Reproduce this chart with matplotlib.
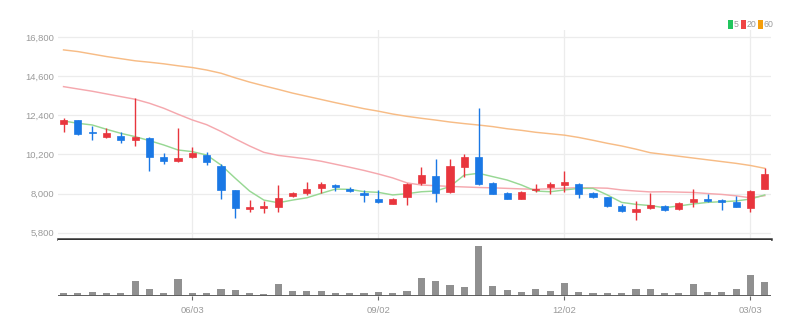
import matplotlib
matplotlib.use("Agg")
import matplotlib.pyplot as plt
from matplotlib.patches import Rectangle
import numpy as np

# ---- data (weekly candles) ----
opens = [11939, 12146, 11488, 11206, 11263, 11037, 11150, 10041, 9834, 10059,
         10172, 9552, 8179, 7146, 7183, 7258, 7860, 8010, 8292, 8499,
         8273, 8010, 7672, 7409, 7823, 8612, 9007, 8066, 9514, 10041,
         8574, 8010, 7691, 8179, 8349, 8499, 8555, 8010, 7785, 7315,
         6976, 7164, 7315, 7146, 7540, 7691, 7616, 7503, 7202, 8273]
highs = [12240, 12160, 11827, 11714, 11451, 13406, 11160, 10304, 11678, 10642,
         10323, 9646, 8190, 7634, 7578, 8480, 8100, 8668, 8668, 8530,
         8386, 8198, 8198, 7728, 8574, 9514, 9947, 9947, 10229, 12842,
         8668, 8104, 8120, 8537, 8668, 9270, 8612, 8066, 7823, 7409,
         7597, 8048, 7352, 7540, 8254, 7972, 7672, 7860, 8179, 9420]
lows = [11488, 11300, 11018, 11150, 10830, 10699, 9270, 9683, 9760, 9984,
        9608, 7691, 6638, 6976, 6882, 6976, 7822, 7916, 8010, 8142,
        8104, 7540, 7490, 7390, 7352, 8480, 7503, 8010, 8950, 8500,
        7954, 7680, 7680, 8104, 7954, 8066, 7766, 7766, 7258, 6976,
        6506, 7127, 7014, 7089, 7221, 7503, 7051, 7221, 6976, 8236]
closes = [12165, 11357, 11394, 11432, 11018, 11169, 10041, 9815, 9986, 10266,
          9796, 8198, 7164, 7258, 7277, 7728, 8048, 8273, 8518, 8386,
          8142, 7935, 7503, 7672, 8518, 9044, 8010, 9552, 10078, 8518,
          7991, 7691, 8104, 8254, 8518, 8631, 7954, 7823, 7296, 7014,
          7108, 7333, 7051, 7484, 7672, 7597, 7503, 7258, 8142, 9101]
volumes = [9, 8, 12, 9, 9, 45, 20, 9, 52, 9,
           9, 20, 17, 9, 7, 35, 14, 14, 14, 8,
           8, 9, 12, 8, 16, 54, 45, 32, 27, 149,
           30, 17, 13, 21, 16, 39, 12, 9, 9, 8,
           22, 22, 9, 8, 35, 13, 13, 21, 64, 43]
ma5 = [12090, 11958, 11864, 11620, 11394, 11206, 10981, 10736, 10454, 10360,
       10172, 9608, 8860, 8140, 7630, 7480, 7630, 7760, 8010, 8250,
       8235, 8104, 8066, 7920, 7990, 8100, 8140, 8390, 9040, 9140,
       8950, 8760, 8480, 8140, 8100, 8200, 8290, 8290, 7920, 7500,
       7390, 7320, 7200, 7300, 7410, 7500, 7540, 7580, 7690, 7920]
ma20 = [14024, 13893, 13765, 13613, 13462, 13312, 13088, 12806, 12468, 12146,
        11880, 11500, 11080, 10680, 10320, 10150, 10050, 9950, 9820, 9650,
        9480, 9300, 9100, 8880, 8600, 8480, 8440, 8400, 8370, 8340,
        8320, 8290, 8260, 8240, 8270, 8300, 8330, 8320, 8300, 8200,
        8140, 8090, 8100, 8080, 8060, 8000, 7950, 7870, 7760, 7880]
ma60 = [16094, 16000, 15860, 15720, 15600, 15480, 15400, 15310, 15200, 15100,
        14960, 14780, 14520, 14280, 14070, 13870, 13660, 13480, 13300, 13120,
        12950, 12780, 12640, 12480, 12350, 12240, 12140, 12030, 11940, 11860,
        11770, 11650, 11560, 11450, 11370, 11290, 11160, 11000, 10830, 10680,
        10500, 10300, 10200, 10100, 10000, 9900, 9800, 9700, 9580, 9420]
y_ticks = [5800, 8000, 10200, 12400, 14600, 16800]
x_tick_idx = [9, 22, 35, 48]
x_tick_labels = ["06/03", "09/02", "12/02", "03/03"]

UP = "#e8353d"
DOWN = "#1a78e5"
FONT = ["Liberation Sans Narrow", "DejaVu Sans Condensed", "Liberation Sans", "DejaVu Sans"]
TXT = "#9a9a9a"

fig = plt.figure(figsize=(8.06, 3.32), dpi=100)
ax = fig.add_axes([0.072, 0.280, 0.885, 0.630])
axv = fig.add_axes([0.072, 0.108, 0.885, 0.169], sharex=ax)

n = len(opens)
x = np.arange(n)

# grid
for yt in y_ticks:
    ax.axhline(yt, color="#ececec", lw=0.9, zorder=0)
for xi in x_tick_idx:
    ax.axvline(xi, color="#ececec", lw=0.9, zorder=0)

# moving averages
ax.plot(x, ma60, color="#f7bc86", lw=1.05, zorder=1)
ax.plot(x, ma20, color="#f5a8ae", lw=1.05, zorder=1)
ax.plot(x, ma5, color="#98d894", lw=1.05, zorder=1)

# candles
w = 0.5
for i in range(n):
    o, h, l, c = opens[i], highs[i], lows[i], closes[i]
    col = UP if c >= o else DOWN
    ax.vlines(i, l, h, color=col, lw=1.0, zorder=2)
    bot = min(o, c)
    hgt = max(abs(c - o), 40)
    ax.add_patch(Rectangle((i - w / 2, bot), w, hgt, facecolor=col,
                           edgecolor=col, lw=0.5, zorder=3))

ax.set_xlim(-0.385, n - 1 + 0.46)
ax.set_ylim(5435, 17222)
ax.set_yticks(y_ticks)
ax.set_yticklabels([f"{v:,}" for v in y_ticks], fontfamily=FONT,
                   fontsize=6.8, color=TXT)
ax.tick_params(axis="y", length=0, pad=3)
ax.tick_params(axis="x", length=0, labelbottom=False)
for s in ["top", "right", "left"]:
    ax.spines[s].set_visible(False)
ax.spines["bottom"].set_color("#333333")
ax.spines["bottom"].set_linewidth(1.8)

# volume
axv.bar(x, volumes, width=0.5, color="#909090", zorder=2)
axv.axhline(0, color="#5e5e5e", lw=1.4, zorder=3)
axv.set_ylim(0, 167)
axv.set_yticks([])
for s in ["top", "right", "left", "bottom"]:
    axv.spines[s].set_visible(False)
axv.set_xticks(x_tick_idx)
axv.set_xticklabels(x_tick_labels, fontfamily=FONT, fontsize=6.8, color=TXT)
axv.tick_params(axis="x", length=3, color="#666666", pad=4)

# legend
leg_items = [("5", "#22c55e"), ("20", "#ef4444"), ("60", "#f59e0b")]
lx = 0.9035
for lab, col in leg_items:
    fig.patches.append(Rectangle((lx, 0.914), 0.006, 0.026,
                                 transform=fig.transFigure, facecolor=col,
                                 edgecolor="none"))
    fig.text(lx + 0.0072, 0.927, lab, fontfamily=FONT, fontsize=6.3,
             color=TXT, va="center", ha="left")
    lx += 0.0072 + 0.0052 * len(lab) + 0.0035

fig.savefig("out.png", dpi=100, facecolor="white")
